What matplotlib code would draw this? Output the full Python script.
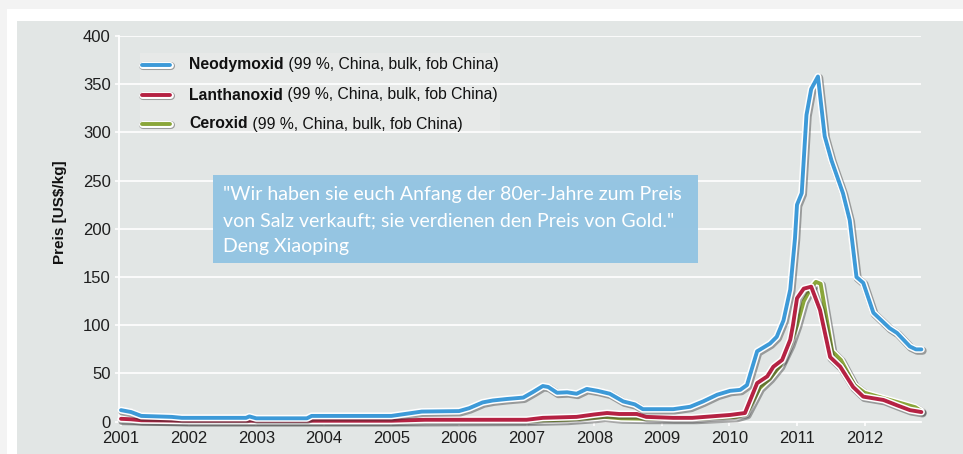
import matplotlib
matplotlib.use("Agg")
import matplotlib.pyplot as plt
import matplotlib.patheffects as pe
from matplotlib.patches import Rectangle
from matplotlib.lines import Line2D

# ---------------- data ----------------
nd_years = [2001.0, 2001.15, 2001.3, 2001.75, 2001.9, 2002.85, 2002.9, 2003.0, 2003.75, 2003.82,
            2005.0, 2005.2, 2005.45, 2006.0, 2006.15, 2006.35, 2006.5, 2006.7, 2006.95, 2007.1,
            2007.24, 2007.32, 2007.45, 2007.6, 2007.74, 2007.89, 2008.05, 2008.23, 2008.43, 2008.6,
            2008.72, 2009.17, 2009.42, 2009.61, 2009.82, 2010.01, 2010.16, 2010.26, 2010.41, 2010.6,
            2010.7, 2010.8, 2010.9, 2010.97, 2011.0, 2011.07, 2011.14, 2011.21, 2011.31, 2011.41,
            2011.51, 2011.68, 2011.78, 2011.88, 2011.98, 2012.13, 2012.25, 2012.37, 2012.48, 2012.67,
            2012.76, 2012.84]
nd_values = [12, 10, 6, 5, 4, 4, 5.5, 3.5, 3.5, 6,
             6, 8, 10.5, 11, 14, 20, 22, 23.5, 25, 31,
             37, 36, 30, 30.5, 29, 34, 32, 29, 21, 18,
             13, 13, 15.5, 21, 28, 32, 33, 38, 73, 81,
             88, 105, 137, 190, 225, 237, 318, 345, 358, 296,
             271, 237, 209, 150, 144, 113, 105, 97, 92, 78,
             75, 75]

la_years = [2001.0, 2001.15, 2001.3, 2002.0, 2005.0, 2005.5, 2007.0, 2007.24, 2007.74, 2008.0,
            2008.19, 2008.37, 2008.63, 2008.77, 2009.17, 2009.45, 2010.01, 2010.23, 2010.41, 2010.56,
            2010.65, 2010.78, 2010.9, 2010.94, 2011.0, 2011.1, 2011.21, 2011.34, 2011.49, 2011.64,
            2011.83, 2011.98, 2012.28, 2012.48, 2012.67, 2012.84]
la_values = [3, 2.5, 1.5, 1, 1, 2, 2, 4, 5, 7.5,
             9, 8, 8, 5, 4, 4, 7, 9, 40, 47,
             57, 64, 85, 100, 128, 138, 140, 116, 67, 57,
             36, 26, 22.5, 17, 12, 10]

ce_years = [2001.0, 2002.0, 2005.0, 2007.0, 2007.6, 2008.0, 2008.15, 2008.4, 2008.8, 2009.5,
            2010.1, 2010.25, 2010.45, 2010.6, 2010.75, 2010.9, 2011.0, 2011.1, 2011.2, 2011.28,
            2011.35, 2011.52, 2011.65, 2011.85, 2012.0, 2012.3, 2012.55, 2012.75, 2012.84]
ce_values = [2, 0.5, 0.5, 1, 2, 4, 5, 3.5, 3, 3,
             5, 8, 35, 45, 58, 80, 100, 125, 138, 145,
             143, 73, 64, 38, 30, 24, 19, 15, 11]

series_names = ["Neodymoxid", "Lanthanoxid", "Ceroxid"]
series_suffix = " (99 %, China, bulk, fob China)"
series_colors = ["#3d9ad8", "#b52243", "#8aa63a"]

x_ticks = list(range(2001, 2013))
y_ticks = list(range(0, 401, 50))
y_label = "Preis [US$/kg]"
quote_lines = ['"Wir haben sie euch Anfang der 80er-Jahre zum Preis',
               'von Salz verkauft; sie verdienen den Preis von Gold."',
               'Deng Xiaoping']

# ---------------- figure ----------------
W, H = 963, 454
fig = plt.figure(figsize=(W / 100, H / 100), dpi=100)
fig.patch.set_facecolor("white")

def px_rect(x0, y0, x1, y1, **kw):
    r = Rectangle((x0 / W, 1 - y1 / H), (x1 - x0) / W, (y1 - y0) / H,
                  transform=fig.transFigure, **kw)
    fig.add_artist(r)
    return r

px_rect(0, 0, W, 9, facecolor="#f3f3f3", edgecolor="none", zorder=0)
px_rect(0, 0, 7, H, facecolor="#f3f3f3", edgecolor="none", zorder=0)
px_rect(17, 21, W, H, facecolor="#e2e6e5", edgecolor="none", zorder=0)
px_rect(140, 53, 500, 131, facecolor="#e7e9e8", edgecolor="none", zorder=0.5)

ax_l, ax_r, ax_t, ax_b = 119, 921, 36, 421.7
ax = fig.add_axes([ax_l / W, 1 - ax_b / H, (ax_r - ax_l) / W, (ax_b - ax_t) / H])
ax.set_facecolor("none")
ax.set_zorder(1)

x0 = 2001 - 2 / 67.6
ax.set_xlim(x0, x0 + (ax_r - ax_l) / 67.6)
ax.set_ylim(0, 400)
ax.set_xticks(x_ticks)
ax.set_yticks(y_ticks)
ax.set_xticklabels([str(t) for t in x_ticks])
for s in ["top", "right"]:
    ax.spines[s].set_visible(False)
for s in ["left", "bottom"]:
    ax.spines[s].set_color("white")
    ax.spines[s].set_linewidth(1.3)
ax.grid(axis="y", color="white", linewidth=1.2)
ax.set_axisbelow(True)
ax.tick_params(axis="both", colors="white", labelcolor="#1e1e1e", labelsize=12,
               width=1.2, length=3)
ax.tick_params(axis="x", pad=4)
ax.tick_params(axis="y", pad=3)
for lab in ax.get_xticklabels() + ax.get_yticklabels():
    lab.set_fontfamily("Liberation Sans")

def effects(lw):
    return [pe.SimpleLineShadow(offset=(0.9, -1.0), shadow_color="#2a2a2a", alpha=0.4,
                                linewidth=lw + 3.0),
            pe.Stroke(linewidth=lw + 2.2, foreground="white"),
            pe.Normal()]

lw = 2.8
for xs, ys, c in [(ce_years, ce_values, series_colors[2]),
                  (la_years, la_values, series_colors[1]),
                  (nd_years, nd_values, series_colors[0])]:
    ax.plot(xs, ys, color=c, linewidth=lw, solid_joinstyle="round", solid_capstyle="round",
            path_effects=effects(lw), clip_on=False, zorder=3)

# ---------------- legend (manual) ----------------
renderer = fig.canvas.get_renderer()
rows_y = [65, 95, 124]
for name, c, yy in zip(series_names, series_colors, rows_y):
    fy = 1 - yy / H
    ln = Line2D([142 / W, 170 / W], [fy, fy], transform=fig.transFigure, color=c,
                linewidth=lw, solid_capstyle="round", path_effects=effects(lw), zorder=5)
    fig.add_artist(ln)
    t1 = fig.text(189 / W, fy, name, fontsize=11.3, fontweight="bold",
                  family="Liberation Sans", color="#111111", va="center", ha="left", zorder=5)
    bb = t1.get_window_extent(renderer=renderer)
    fig.text(bb.x1 / W, fy, series_suffix, fontsize=11.3, family="Liberation Sans",
             color="#111111", va="center", ha="left", zorder=5)

# ---------------- y label ----------------
fig.text(60 / W, 1 - 212 / H, y_label, rotation=90, fontsize=11, fontweight="bold",
         family="Liberation Sans", color="#111111", va="center", ha="center")

# ---------------- quote box ----------------
px_rect(213, 175, 698, 263, facecolor="#93c4e2", edgecolor="none", alpha=0.97, zorder=6)
for line, yy in zip(quote_lines, [193, 219, 245]):
    fig.text(223 / W, 1 - yy / H, line, fontsize=14, family="Lato", color="white",
             va="center_baseline", ha="left", zorder=7)

fig.savefig("out.png", dpi=100)
